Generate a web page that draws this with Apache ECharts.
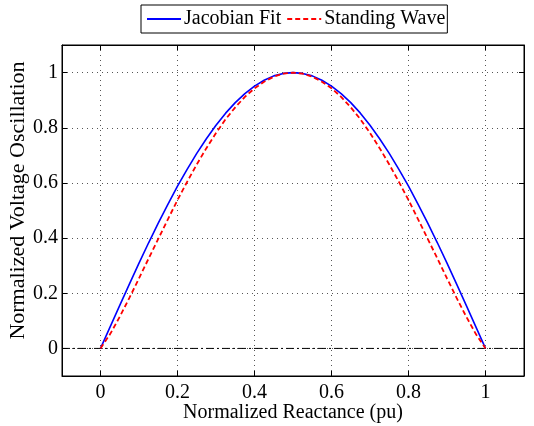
<!DOCTYPE html>
<html>
<head>
<meta charset="utf-8">
<script src="https://cdn.jsdelivr.net/npm/echarts@6/dist/echarts.min.js"></script>
<style>html,body{margin:0;padding:0;background:#fff}#c{width:534px;height:426px}</style>
</head>
<body>
<div id="c"></div>
<script>
// Reactance sample positions (pu)
const xValues = [0,0.025,0.05,0.075,0.1,0.125,0.15,0.175,0.2,0.225,0.25,0.275,0.3,0.325,0.35,0.375,0.4,0.425,0.45,0.475,0.5,
  0.525,0.55,0.575,0.6,0.625,0.65,0.675,0.7,0.725,0.75,0.775,0.8,0.825,0.85,0.875,0.9,0.925,0.95,0.975,1];
// Jacobian Fit (blue solid)
const jacobianFit = [0,0.078,0.156,0.233,0.309,0.383,0.454,0.522,0.588,0.649,0.707,0.760,0.809,0.853,0.891,0.924,0.951,0.972,0.988,0.997,1.0,
  0.997,0.988,0.972,0.951,0.924,0.891,0.853,0.809,0.760,0.707,0.649,0.588,0.522,0.454,0.383,0.309,0.233,0.156,0.078,0];
// Standing Wave (red dashed)
const standingWave = [0,0.052,0.115,0.183,0.254,0.326,0.397,0.468,0.538,0.604,0.667,0.726,0.781,0.831,0.874,0.912,0.943,0.967,0.985,0.996,1.0,
  0.996,0.985,0.967,0.943,0.912,0.874,0.831,0.781,0.726,0.667,0.604,0.538,0.468,0.397,0.326,0.254,0.183,0.115,0.052,0];
// Reference line at zero
const zeroLineX = [-0.1, 1.1];
const zeroLineY = [0, 0];
// Tick labels
const xTicks = [0, 0.2, 0.4, 0.6, 0.8, 1];
const yTicks = [0, 0.2, 0.4, 0.6, 0.8, 1];
const seriesNames = ['Jacobian Fit', 'Standing Wave'];

const font = 'Liberation Serif';
const FS = 20;
const pair = (xs, ys) => xs.map((x, i) => [x, ys[i]]);

function mkAxis(ticks, extra) {
  const a = {
    type: 'value',
    min: -0.1, max: 1.1,
    axisLine: { show: true, onZero: false, lineStyle: { color: '#000', width: 1 } },
    axisTick: { show: true, inside: true, length: 5, customValues: ticks, lineStyle: { color: '#000' } }
  };
  return Object.assign(a, extra);
}

const chart = echarts.init(document.getElementById('c'), null, { renderer: 'canvas' });
chart.setOption({
  animation: false,
  backgroundColor: '#fff',
  textStyle: { fontFamily: font },
  legend: {
    data: seriesNames,
    left: 141, top: 5,
    orient: 'horizontal',
    backgroundColor: '#fff',
    borderColor: '#000', borderWidth: 1, borderRadius: 0,
    padding: [4, 2, 4, 5],
    itemGap: 5, itemWidth: 34, itemHeight: 14,
    itemStyle: { opacity: 0 },
    textStyle: { fontFamily: font, fontSize: FS, color: '#000', padding: [0, 0, 0, -2] }
  },
  grid: { left: 62, right: 10, top: 45, bottom: 50, show: true, borderColor: '#000', borderWidth: 1,
          containLabel: false, outerBoundsMode: 'none' },
  xAxis: [
    mkAxis(xTicks, {
      position: 'bottom',
      name: 'Normalized Reactance (pu)', nameLocation: 'middle', nameGap: 27, nameMoveOverlap: false,
      nameTextStyle: { fontFamily: font, fontSize: FS, color: '#000' },
      axisLabel: { customValues: xTicks, margin: 7, fontFamily: font, fontSize: FS, color: '#000' },
      splitLine: { show: true, lineStyle: { color: '#555', width: 1, type: [1, 4] } }
    }),
    mkAxis(xTicks, { position: 'top', axisLabel: { show: false }, splitLine: { show: false } })
  ],
  yAxis: [
    mkAxis(yTicks, {
      position: 'left',
      name: 'Normalized Voltage Oscillation', nameLocation: 'middle', nameGap: 33, nameMoveOverlap: false,
      nameTextStyle: { fontFamily: font, fontSize: 22, color: '#000', padding: [0, 0, 0, 20] },
      axisLabel: { customValues: yTicks, margin: 4, fontFamily: font, fontSize: FS, color: '#000' },
      splitLine: { show: true, lineStyle: { color: '#555', width: 1, type: [1, 4] } }
    }),
    mkAxis(yTicks, { position: 'right', axisLabel: { show: false }, splitLine: { show: false } })
  ],
  series: [
    {
      name: 'zero', type: 'line', data: pair(zeroLineX, zeroLineY),
      showSymbol: false, symbol: 'none', silent: true,
      lineStyle: { color: '#000', width: 1, type: [8, 3, 2, 3] }, z: 1
    },
    {
      name: seriesNames[0], type: 'line', data: pair(xValues, jacobianFit),
      showSymbol: false, symbol: 'none',
      itemStyle: { color: '#0000ff' },
      lineStyle: { color: '#0000ff', width: 1.6, type: 'solid' }, z: 2
    },
    {
      name: seriesNames[1], type: 'line', data: pair(xValues, standingWave),
      showSymbol: false, symbol: 'none',
      itemStyle: { color: '#ff0000' },
      lineStyle: { color: '#ff0000', width: 1.8, type: [5, 3] }, z: 3
    }
  ]
});
</script>
</body>
</html>
